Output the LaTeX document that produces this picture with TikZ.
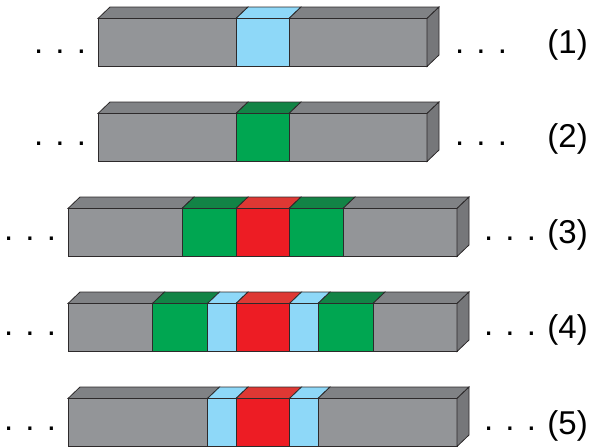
\documentclass[tikz,border=0pt]{standalone}
\usepackage{fontspec}
\setmainfont{Liberation Sans}
\definecolor{grayF}{RGB}{147,149,152}
\definecolor{grayT}{RGB}{128,130,133}
\definecolor{grayS}{RGB}{118,119,122}
\definecolor{cyanF}{RGB}{142,216,248}
\definecolor{cyanT}{RGB}{142,216,248}
\definecolor{greenF}{RGB}{0,166,81}
\definecolor{greenT}{RGB}{18,132,70}
\definecolor{redF}{RGB}{237,28,36}
\definecolor{redT}{RGB}{222,56,52}
\definecolor{edgec}{RGB}{45,42,43}
\newcommand\drawseg[5]{%
  \filldraw[fill=#4,edgeline] (#1,#3) rectangle (#2,#3+48);
  \filldraw[fill=#5,edgeline] (#1,#3) -- (#1+12,#3-11.5) -- (#2+12,#3-11.5) -- (#2,#3) -- cycle;
}
\newcommand\drawside[2]{%
  \filldraw[fill=grayS,edgeline] (#1,#2) -- (#1+12,#2-11.5) -- (#1+12,#2+36.5) -- (#1,#2+48) -- cycle;
}
\begin{document}
\begin{tikzpicture}[x=1pt,y=-1pt,
  edgeline/.style={draw=edgec,line width=0.8pt,line join=miter},
  txt/.style={inner sep=0pt,font=\fontsize{33}{40}\selectfont}]
\useasboundingbox (0,0) rectangle (590,447);
% bar 1
\drawseg{98}{236}{18.5}{grayF}{grayT}
\drawseg{236}{289}{18.5}{cyanF}{cyanT}
\drawseg{289}{427}{18.5}{grayF}{grayT}
\drawside{427}{18.5}
% bar 2
\drawseg{98}{236}{113.5}{grayF}{grayT}
\drawseg{236}{289}{113.5}{greenF}{greenT}
\drawseg{289}{427}{113.5}{grayF}{grayT}
\drawside{427}{113.5}
% bar 3
\drawseg{68}{182}{208.5}{grayF}{grayT}
\drawseg{182}{236}{208.5}{greenF}{greenT}
\drawseg{236}{289}{208.5}{redF}{redT}
\drawseg{289}{343}{208.5}{greenF}{greenT}
\drawseg{343}{457}{208.5}{grayF}{grayT}
\drawside{457}{208.5}
% bar 4
\drawseg{68}{152.5}{303.5}{grayF}{grayT}
\drawseg{152.5}{207.5}{303.5}{greenF}{greenT}
\drawseg{207.5}{236}{303.5}{cyanF}{cyanT}
\drawseg{236}{289.5}{303.5}{redF}{redT}
\drawseg{289.5}{318}{303.5}{cyanF}{cyanT}
\drawseg{318}{373}{303.5}{greenF}{greenT}
\drawseg{373}{457}{303.5}{grayF}{grayT}
\drawside{457}{303.5}
% bar 5
\drawseg{68}{207.5}{398.5}{grayF}{grayT}
\drawseg{207.5}{236}{398.5}{cyanF}{cyanT}
\drawseg{236}{289.5}{398.5}{redF}{redT}
\drawseg{289.5}{318}{398.5}{cyanF}{cyanT}
\drawseg{318}{457}{398.5}{grayF}{grayT}
\drawside{457}{398.5}
% dots and labels
\node[txt,anchor=base] (l1) at (60,53) {. . .};
\node[txt,anchor=base] (r1) at (481,53) {. . .};
\node[txt,anchor=base east] (n1) at (588,53) {(1)};
\node[txt,anchor=base] (l2) at (60,145) {. . .};
\node[txt,anchor=base] (r2) at (481,145) {. . .};
\node[txt,anchor=base east] (n2) at (588,147) {(2)};
\node[txt,anchor=base] (l3) at (30,240.5) {. . .};
\node[txt,anchor=base] (r3) at (510,240.5) {. . .};
\node[txt,anchor=base east] (n3) at (588,243) {(3)};
\node[txt,anchor=base] (l4) at (30,335) {. . .};
\node[txt,anchor=base] (r4) at (510,335) {. . .};
\node[txt,anchor=base east] (n4) at (588,338) {(4)};
\node[txt,anchor=base] (l5) at (30,430) {. . .};
\node[txt,anchor=base] (r5) at (510,430) {. . .};
\node[txt,anchor=base east] (n5) at (588,434) {(5)};
\end{tikzpicture}
\end{document}
